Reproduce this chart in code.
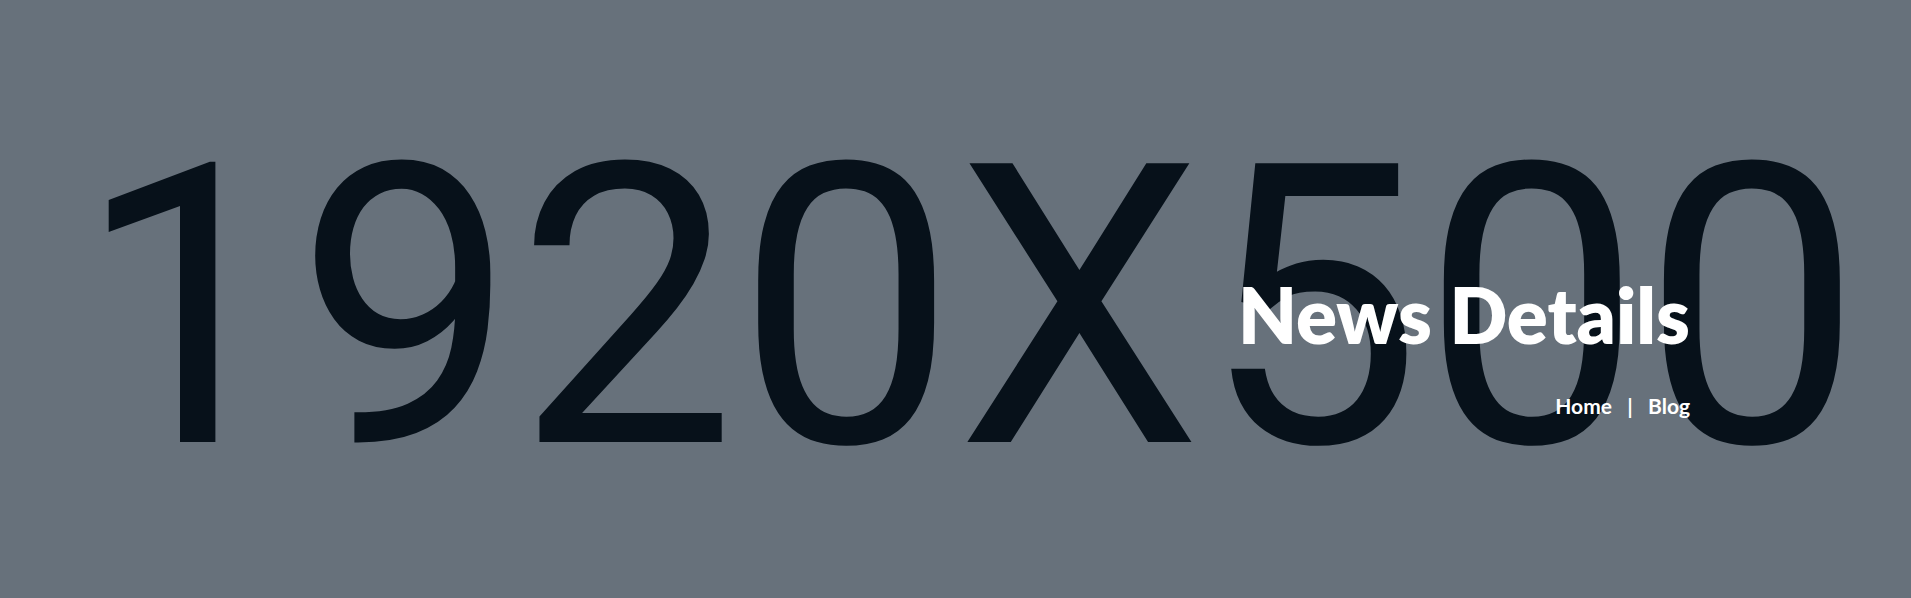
import React from "react";

const W = 1911;
const H = 598;
const placeholderText = ["1920X500"];
const titleText = ["News Details"];
const crumbs = ["Home", "|", "Blog"];

export default function App() {
  return (
    <svg width={W} height={H} style={{ position: "absolute", left: 0, top: 0 }}>
      <rect x={0} y={0} width={W} height={H} fill="#67717b" />
      <text x={76} y={442} fontFamily="Roboto" fontSize={392} fill="#07111a" textLength={1786} lengthAdjust="spacingAndGlyphs">
        {placeholderText[0]}
      </text>
      <text x={1690} y={344} textAnchor="end" fontFamily="Lato" fontWeight={800} fontSize={78} fill="#ffffff" textLength={452} lengthAdjust="spacingAndGlyphs">
        {titleText[0]}
      </text>
      <text x={1690} y={414} textAnchor="end" fontFamily="Lato" fontWeight={700} fontSize={21} fill="#ffffff" xmlSpace="preserve">
        {crumbs.join("   ")}
      </text>
    </svg>
  );
}
